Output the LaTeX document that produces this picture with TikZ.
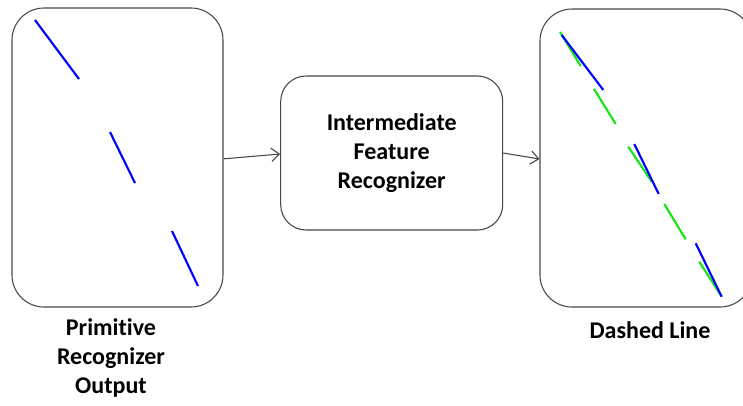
\documentclass[tikz,border=0pt]{standalone}
\usepackage{fontspec}
\setmainfont{Carlito}[Ligatures=NoCommon]
\usetikzlibrary{arrows.meta}
\definecolor{edgegray}{RGB}{70,70,70}
\definecolor{strokeblue}{RGB}{0,0,255}
\definecolor{strokegreen}{RGB}{20,230,20}
\tikzset{
  panel/.style={draw=edgegray, line width=0.8pt, rounded corners=24pt, inner sep=0pt},
  proc/.style={draw=edgegray, line width=0.8pt, rounded corners=19pt, align=center, inner sep=0pt,
    minimum width=166.5pt, minimum height=115.5pt},
  caption/.style={align=center, font=\fontsize{18pt}{21.5pt}\selectfont\bfseries},
  flow/.style={draw=edgegray, line width=0.8pt, -{Straight Barb[length=6pt,width=10pt]}},
  primstroke/.style={strokeblue, line width=1.6pt},
  dashstroke/.style={strokegreen, line width=1.6pt}
}
\begin{document}
\begin{tikzpicture}[x=0.75pt,y=-0.75pt]
            \useasboundingbox (0,0) rectangle (743,405);
            % Riquadri
            \node[panel, minimum width=158.25pt, minimum height=224.25pt] (input) at (117.5,157.5) {};
            \node[proc, caption] (recog) at (391.7,153) {Intermediate\\Feature\\Recognizer};
            \node[panel, minimum width=159pt, minimum height=223.5pt] (output) at (646,158) {};
            % Frecce
            \draw[flow] ([yshift=-1pt]input.east) -- ([yshift=-0.75pt]recog.west);
            \draw[flow] (recog.east) -- ([yshift=-0.75pt]output.west);
            % Tratti primitivi
            \draw[primstroke] (35,20) -- (79,79);
            \draw[primstroke] (110,132) -- (135,183);
            \draw[primstroke] (172,231) -- (198,286);
            % Linea tratteggiata
            \draw[dashstroke] (560,32) -- (580.7,66);
            \draw[dashstroke] (594,89) -- (615.7,124);
            \draw[dashstroke] (628.3,146.7) -- (651.7,181.7);
            \draw[dashstroke] (664.3,204) -- (685.7,239.3);
            \draw[dashstroke] (699.3,261.7) -- (721.7,296.7);
            \draw[primstroke] (561.7,35) -- (603.3,90);
            \draw[primstroke] (634.3,144) -- (658.7,194);
            \draw[primstroke] (695.7,243.3) -- (721.7,296.7);
            % Etichette
            \node[caption] (inlabel) at (111,358) {Primitive\\Recognizer\\Output};
            \node[caption] (outlabel) at (650,330) {Dashed Line};
\end{tikzpicture}
\end{document}
